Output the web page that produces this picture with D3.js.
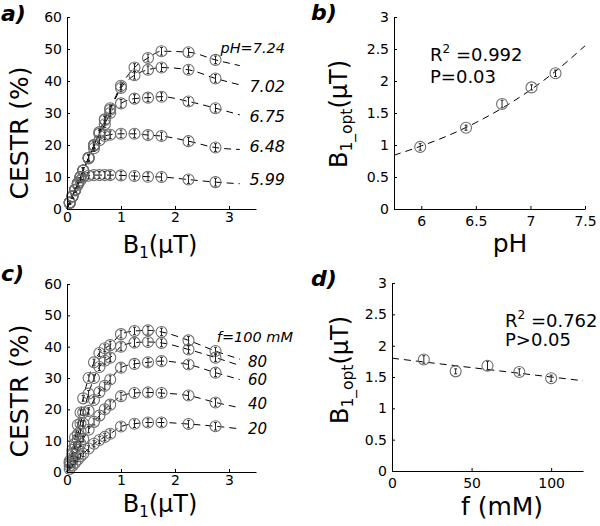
<!DOCTYPE html>
<html><head><meta charset="utf-8">
<script src="https://cdn.jsdelivr.net/npm/d3@7"></script>
<style>
html,body{margin:0;padding:0;background:#fff;}
text{font-family:"DejaVu Sans",sans-serif;}
</style></head>
<body><svg id="c" width="600" height="526"></svg>
<script>
// ---------------- DATA ----------------
const B1 = [0.05,0.1,0.15,0.2,0.25,0.3,0.4,0.5,0.6,0.7,0.8,1.0,1.25,1.5,1.75,2.25,2.75];
const errB1 = [0.4,0.5,0.6,0.7,0.8,0.9,1,1,1.1,1.1,1.2,1.2,1.2,1.2,1.2,1.2,1.2];
const B1_END = 3.2;

// panel a : CESTR (%) for each pH
const phLabels = ["pH=7.24","7.02","6.75","6.48","5.99"];
const cestrPH724 = [2,4,6,8,10,12,16,20,24,28,31.5,38.5,44.2,47.2,49.3,49,46.6];
const cestrPH702 = [2,4,6,8,10,12,16,20,24,27.8,31,37.8,41.8,43.5,44.2,43.5,40.8];
const cestrPH675 = [2,4,6,8,10,12,16,19.8,23.5,26.5,30,33,34.5,34.8,35.1,33.6,31.5];
const cestrPH648 = [2,4,6,8,10,12,15.8,19,21.5,22.8,23.2,23.5,23.5,23.1,22.8,21.2,19.2];
const cestrPH599 = [1.8,3.8,5.8,7.5,9,10,10.4,10.6,10.6,10.6,10.6,10.5,10.3,10.1,10,9.2,8.4];
const fitEndPH = [44.8,38.8,29.4,18.6,7.9];

// panel c : CESTR (%) for each concentration
const fLabels = ["f=100 mM","80","60","40","20"];
const cestrF100 = [3.5,7,11,15,19,23.5,30,35,38,39.5,40.5,44,45,45.2,44.7,42,38.6];
const cestrF80  = [3,6,9,12,15.5,19,25,30,33.5,35.5,36.5,40,41.3,41.5,41.2,39.1,36.5];
const cestrF60  = [2.8,5.5,8,10.5,13,15.5,19.5,23,25.5,27.5,29.5,33.3,34.5,35,35.4,34.3,31.7];
const cestrF40  = [2,3.8,5.5,7.2,9,10.5,13.5,16,18,20,21.5,24.2,25.2,25.4,25.2,24.4,22.2];
const cestrF20  = [1,2,3,4,5,5.8,7.5,9,10.2,11.2,12.2,14.5,15.4,15.8,15.8,15.3,14.6];
const fitEndF = [36,34,29.5,20.5,13.8];

// panel b : B1_opt vs pH
const pHvals = [5.99,6.41,6.74,7.01,7.23];
const b1optPH = [0.97,1.27,1.64,1.9,2.12];
const errPH = [0.05,0.04,0.06,0.04,0.05];
const fitPHx = [5.75,6,6.25,6.5,6.75,7,7.25,7.5];
const fitPHy = [0.84,0.985,1.15,1.35,1.585,1.86,2.18,2.55];

// panel d : B1_opt vs f
const fVals = [20,40,60,80,100];
const b1optF = [1.78,1.59,1.68,1.58,1.48];
const errF = [0.06,0.04,0.07,0.05,0.05];
const fitFx = [0,120];
const fitFy = [1.80,1.44];

// ticks
const ticksCESTR = [0,10,20,30,40,50,60];
const ticksB1 = [0,1,2,3];
const ticksB1opt = [0,0.5,1,1.5,2,2.5,3];
const ticksPH = [6,6.5,7,7.5];
const ticksF = [0,50,100];

// ---------------- DRAW ----------------
const svg = d3.select("#c");
const CIRC = "#6e6e6e";

function axes(g, x, y, xt, yt, xpad){
  g.append("g").attr("transform",`translate(0,${y.range()[0]})`)
    .call(d3.axisBottom(x).tickValues(xt).tickSizeInner(-3).tickSizeOuter(0).tickPadding(xpad).tickFormat(d=>String(d)));
  g.append("g").attr("transform",`translate(${x.range()[0]},0)`)
    .call(d3.axisLeft(y).tickValues(yt).tickSizeInner(-3).tickSizeOuter(0).tickPadding(5).tickFormat(d=>String(d)));
  g.selectAll(".tick text").attr("font-size",14).attr("font-family","DejaVu Sans").attr("fill","#000");
  g.selectAll(".domain, .tick line").attr("stroke","#000");
}

function curvePanel(x, y, seriesList, ends, errs){
  const g = svg.append("g");
  const line = d3.line().x(d=>x(d[0])).y(d=>y(d[1])).curve(d3.curveMonotoneX);
  seriesList.forEach((s,i)=>{
    const pts = B1.map((b,j)=>[b,s[j]]);
    pts.unshift([0,0]);
    pts.push([B1_END, ends[i]]);
    g.append("path").attr("d",line(pts)).attr("fill","none")
      .attr("stroke","#000").attr("stroke-width",1).attr("stroke-dasharray","7,5");
  });
  seriesList.forEach((s)=>{
    B1.forEach((b,j)=>{
      const cx = x(b), cy = y(s[j]), e = errs[j];
      g.append("line").attr("x1",cx).attr("x2",cx).attr("y1",y(s[j]-e)).attr("y2",y(s[j]+e)).attr("stroke","#222").attr("stroke-width",1);
      g.append("line").attr("x1",cx-1.5).attr("x2",cx+1.5).attr("y1",y(s[j]+e)).attr("y2",y(s[j]+e)).attr("stroke","#222");
      g.append("line").attr("x1",cx-1.5).attr("x2",cx+1.5).attr("y1",y(s[j]-e)).attr("y2",y(s[j]-e)).attr("stroke","#222");
      g.append("circle").attr("cx",cx).attr("cy",cy).attr("r",5.5).attr("fill","none").attr("stroke",CIRC).attr("stroke-width",1.1);
    });
  });
  return g;
}

function pointPanel(x, y, xs, ys, es, fx, fy){
  const g = svg.append("g");
  const line = d3.line().x(d=>x(d[0])).y(d=>y(d[1])).curve(d3.curveMonotoneX);
  g.append("path").attr("d",line(fx.map((v,i)=>[v,fy[i]]))).attr("fill","none")
    .attr("stroke","#000").attr("stroke-dasharray","7,5");
  xs.forEach((v,i)=>{
    const cx=x(v), e=es[i];
    g.append("line").attr("x1",cx).attr("x2",cx).attr("y1",y(ys[i]-e)).attr("y2",y(ys[i]+e)).attr("stroke","#222");
    g.append("line").attr("x1",cx-1.5).attr("x2",cx+1.5).attr("y1",y(ys[i]+e)).attr("y2",y(ys[i]+e)).attr("stroke","#222");
    g.append("line").attr("x1",cx-1.5).attr("x2",cx+1.5).attr("y1",y(ys[i]-e)).attr("y2",y(ys[i]-e)).attr("stroke","#222");
    g.append("circle").attr("cx",cx).attr("cy",y(ys[i])).attr("r",5.5).attr("fill","none").attr("stroke",CIRC).attr("stroke-width",1.1);
  });
  return g;
}

function txt(x,y,s,opt={}){
  const t = svg.append("text").attr("x",x).attr("y",y).text(s)
    .attr("font-size",opt.size||16).attr("text-anchor",opt.anchor||"start");
  if(opt.italic) t.attr("font-style","italic");
  if(opt.bold) t.attr("font-weight","bold");
  return t;
}

// ----- panel a
const xa = d3.scaleLinear().domain([0,3.5]).range([67,256]);
const ya = d3.scaleLinear().domain([0,60]).range([209,17]);
curvePanel(xa, ya, [cestrPH724,cestrPH702,cestrPH675,cestrPH648,cestrPH599], fitEndPH, errB1);
axes(svg.append("g"), xa, ya, ticksB1, ticksCESTR, 3);
const phY = [53,92,122,152,185];
phLabels.forEach((l,i)=>txt(285, phY[i], l, {italic:true, size: i===0?14.5:16, anchor:"end"}));

// ----- panel c
const xc = d3.scaleLinear().domain([0,3.5]).range([67,256]);
const yc = d3.scaleLinear().domain([0,60]).range([472,284]);
curvePanel(xc, yc, [cestrF100,cestrF80,cestrF60,cestrF40,cestrF20], fitEndF, errB1);
axes(svg.append("g"), xc, yc, ticksB1, ticksCESTR, 3);
const fY = [342,367,385,409,434];
fLabels.forEach((l,i)=>{
  if(i===0) txt(293, fY[i], l, {italic:true, size:14.5, anchor:"end"});
  else txt(248, fY[i], l, {italic:true, size:15});
});

// ----- panel b
const xb = d3.scaleLinear().domain([5.75,7.5]).range([394,585]);
const yb = d3.scaleLinear().domain([0,3]).range([209,17]);
pointPanel(xb, yb, pHvals, b1optPH, errPH, fitPHx, fitPHy);
axes(svg.append("g"), xb, yb, ticksPH, ticksB1opt, 7);

// ----- panel d
const xd = d3.scaleLinear().domain([0,120]).range([392,583]);
const yd = d3.scaleLinear().domain([0,3]).range([471,283]);
pointPanel(xd, yd, fVals, b1optF, errF, fitFx, fitFy);
axes(svg.append("g"), xd, yd, ticksF, ticksB1opt, 7);

// ----- stats text
function r2(x,y,val){
  const t = svg.append("text").attr("x",x).attr("y",y).attr("font-size",18);
  t.append("tspan").text("R");
  t.append("tspan").text("2").attr("font-size",12).attr("dy",-8);
  t.append("tspan").text(" =" + val).attr("dy",8);
}
r2(430,61,"0.992");
txt(430,83,"P=0.03",{size:18});
r2(505,327,"0.762");
txt(505,346,"P>0.05",{size:18});

// ----- axis titles
function xTitle(x,y){
  const t = svg.append("text").attr("x",x).attr("y",y).attr("font-size",24).attr("text-anchor","middle");
  t.append("tspan").text("B");
  t.append("tspan").text("1").attr("font-size",15).attr("dy",5);
  t.append("tspan").text("(\u03bcT)").attr("dy",-5);
}
xTitle(160,253);
xTitle(160,512);

function yTitleCestr(x,y){
  svg.append("text").attr("transform",`translate(${x},${y}) rotate(-90)`)
    .attr("font-size",25).attr("text-anchor","middle").text("CESTR (%)");
}
yTitleCestr(28,133);
yTitleCestr(28,391);

function yTitleOpt(x,y){
  const t = svg.append("text").attr("transform",`translate(${x},${y}) rotate(-90)`)
    .attr("font-size",24).attr("text-anchor","middle");
  t.append("tspan").text("B");
  t.append("tspan").text("1_opt").attr("font-size",15.5).attr("dy",5);
  t.append("tspan").text("(\u03bcT)").attr("dy",-5);
}
yTitleOpt(347,114);
yTitleOpt(348,370);

txt(510,252,"pH",{size:25,anchor:"middle"});
txt(502,515,"f (mM)",{size:25,anchor:"middle"});

// ----- panel letters
txt(1,21,"a)",{size:22,bold:true,italic:true});
txt(311,20,"b)",{size:22,bold:true,italic:true});
txt(1,281,"c)",{size:22,bold:true,italic:true});
txt(311,286,"d)",{size:22,bold:true,italic:true});
</script></body></html>
